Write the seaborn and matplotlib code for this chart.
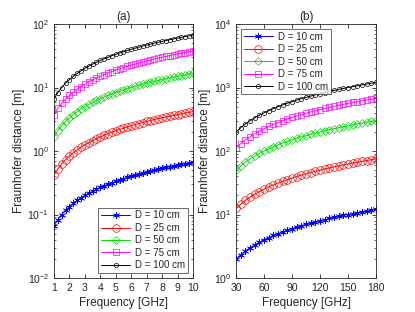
import matplotlib
matplotlib.use("Agg")
import matplotlib.pyplot as plt
import pandas as pd
import seaborn as sns
from matplotlib.ticker import LogLocator, NullFormatter

# panel (a): 1-10 GHz
freq_a = [1.00, 1.25, 1.50, 1.75, 2.00, 2.25, 2.50, 2.75, 3.00, 3.25, 3.50, 3.75,
          4.00, 4.25, 4.50, 4.75, 5.00, 5.25, 5.50, 5.75, 6.00, 6.25, 6.50, 6.75,
          7.00, 7.25, 7.50, 7.75, 8.00, 8.25, 8.50, 8.75, 9.00, 9.25, 9.50, 9.75, 10.00]
d10_a = [0.067, 0.083, 0.100, 0.117, 0.133, 0.150, 0.167, 0.183, 0.200, 0.217, 0.233, 0.250,
         0.267, 0.283, 0.300, 0.317, 0.333, 0.350, 0.367, 0.383, 0.400, 0.417, 0.433, 0.450,
         0.467, 0.483, 0.500, 0.517, 0.533, 0.550, 0.567, 0.583, 0.600, 0.617, 0.633, 0.650, 0.667]
d25_a = [0.42, 0.52, 0.63, 0.73, 0.83, 0.94, 1.04, 1.15, 1.25, 1.35, 1.46, 1.56,
         1.67, 1.77, 1.88, 1.98, 2.08, 2.19, 2.29, 2.40, 2.50, 2.60, 2.71, 2.81,
         2.92, 3.02, 3.13, 3.23, 3.33, 3.44, 3.54, 3.65, 3.75, 3.85, 3.96, 4.06, 4.17]
d50_a = [1.67, 2.08, 2.50, 2.92, 3.33, 3.75, 4.17, 4.58, 5.00, 5.42, 5.83, 6.25,
         6.67, 7.08, 7.50, 7.92, 8.33, 8.75, 9.17, 9.58, 10.0, 10.4, 10.8, 11.3,
         11.7, 12.1, 12.5, 12.9, 13.3, 13.8, 14.2, 14.6, 15.0, 15.4, 15.8, 16.3, 16.7]
d75_a = [3.75, 4.69, 5.63, 6.56, 7.50, 8.44, 9.38, 10.3, 11.3, 12.2, 13.1, 14.1,
         15.0, 15.9, 16.9, 17.8, 18.8, 19.7, 20.6, 21.6, 22.5, 23.4, 24.4, 25.3,
         26.3, 27.2, 28.1, 29.1, 30.0, 30.9, 31.9, 32.8, 33.8, 34.7, 35.6, 36.6, 37.5]
d100_a = [6.67, 8.33, 10.0, 11.7, 13.3, 15.0, 16.7, 18.3, 20.0, 21.7, 23.3, 25.0,
          26.7, 28.3, 30.0, 31.7, 33.3, 35.0, 36.7, 38.3, 40.0, 41.7, 43.3, 45.0,
          46.7, 48.3, 50.0, 51.7, 53.3, 55.0, 56.7, 58.3, 60.0, 61.7, 63.3, 65.0, 66.7]

# panel (b): 30-180 GHz
freq_b = [30, 35, 40, 45, 50, 55, 60, 65, 70, 75, 80, 85, 90, 95, 100, 105,
          110, 115, 120, 125, 130, 135, 140, 145, 150, 155, 160, 165, 170, 175, 180]
d10_b = [2.00, 2.33, 2.67, 3.00, 3.33, 3.67, 4.00, 4.33, 4.67, 5.00, 5.33, 5.67, 6.00, 6.33,
         6.67, 7.00, 7.33, 7.67, 8.00, 8.33, 8.67, 9.00, 9.33, 9.67, 10.0, 10.3, 10.7, 11.0,
         11.3, 11.7, 12.0]
d25_b = [12.5, 14.6, 16.7, 18.8, 20.8, 22.9, 25.0, 27.1, 29.2, 31.3, 33.3, 35.4, 37.5, 39.6,
         41.7, 43.8, 45.8, 47.9, 50.0, 52.1, 54.2, 56.3, 58.3, 60.4, 62.5, 64.6, 66.7, 68.8,
         70.8, 72.9, 75.0]
d50_b = [50.0, 58.3, 66.7, 75.0, 83.3, 91.7, 100, 108, 117, 125, 133, 142, 150, 158,
         167, 175, 183, 192, 200, 208, 217, 225, 233, 242, 250, 258, 267, 275, 283, 292, 300]
d75_b = [113, 131, 150, 169, 188, 206, 225, 244, 263, 281, 300, 319, 338, 356,
         375, 394, 413, 431, 450, 469, 488, 506, 525, 544, 563, 581, 600, 619, 638, 656, 675]
d100_b = [200, 233, 267, 300, 333, 367, 400, 433, 467, 500, 533, 567, 600, 633,
          667, 700, 733, 767, 800, 833, 867, 900, 933, 967, 1000, 1033, 1067, 1100,
          1133, 1167, 1200]

labels = ["D = 10 cm", "D = 25 cm", "D = 50 cm", "D = 75 cm", "D = 100 cm"]
colors = ["#0000ff", "#ff0000", "#00dd00", "#ff00ff", "#000000"]
markers = [(6, 2, 0), "o", "D", "s", "o"]
msizes = [5, 5.5, 4, 4.5, 3]

sns.set_style("ticks")
plt.rcParams["font.family"] = ["Liberation Sans", "DejaVu Sans"]
plt.rcParams["font.size"] = 7.5
txt = "#262626"

fig = plt.figure(figsize=(4.15, 3.12), dpi=100)
ax_a = fig.add_axes([0.130, 0.109, 0.335, 0.814])
ax_b = fig.add_axes([0.569, 0.109, 0.337, 0.814])

panels = [
    (ax_a, freq_a, [d10_a, d25_a, d50_a, d75_a, d100_a]),
    (ax_b, freq_b, [d10_b, d25_b, d50_b, d75_b, d100_b]),
]

for ax, freq, series in panels:
    for vals, lab, col, mk, ms in zip(series, labels, colors, markers, msizes):
        df = pd.DataFrame({"f": freq, "dist": vals})
        sns.lineplot(data=df, x="f", y="dist", ax=ax, color=col, marker=mk,
                     markersize=ms, markerfacecolor="none", markeredgecolor=col,
                     markeredgewidth=0.5, linewidth=0.7, label=lab, legend=False)
    ax.set_yscale("log")
    ax.yaxis.set_minor_locator(LogLocator(base=10, subs=range(2, 10)))
    ax.yaxis.set_minor_formatter(NullFormatter())
    ax.tick_params(which="both", direction="in", top=True, right=True,
                   colors=txt, labelcolor=txt, labelsize=7.5)
    ax.tick_params(which="major", length=3, width=0.6)
    ax.tick_params(which="minor", length=1.5, width=0.5)
    for sp in ax.spines.values():
        sp.set_linewidth(0.6)
        sp.set_color(txt)
    ax.set_xlabel("Frequency [GHz]", color=txt, fontsize=8.5, labelpad=3)
    ax.set_ylabel("Fraunhofer distance [m]", color=txt, fontsize=8.5, labelpad=2)

ax_a.set_xlim(1, 10)
ax_a.set_xticks(range(1, 11))
ax_a.set_ylim(1e-2, 1e2)
ax_a.set_title("(a)", color=txt, fontsize=8.5, pad=3)

ax_b.set_xlim(30, 180)
ax_b.set_xticks([30, 60, 90, 120, 150, 180])
ax_b.set_ylim(1e0, 1e4)
ax_b.set_title("(b)", color=txt, fontsize=8.5, pad=3)

leg_kw = dict(fontsize=7, frameon=True, fancybox=False, handlelength=3.0,
              borderpad=0.3, labelspacing=0.25, handletextpad=0.5, borderaxespad=0.5)
leg_a = ax_a.legend(loc="lower right", **leg_kw)
leg_b = ax_b.legend(loc="upper left", **leg_kw)
for leg in (leg_a, leg_b):
    leg.get_frame().set_edgecolor(txt)
    leg.get_frame().set_linewidth(0.6)
    for t in leg.get_texts():
        t.set_color(txt)

fig.savefig("out.png", dpi=100, facecolor="white")
